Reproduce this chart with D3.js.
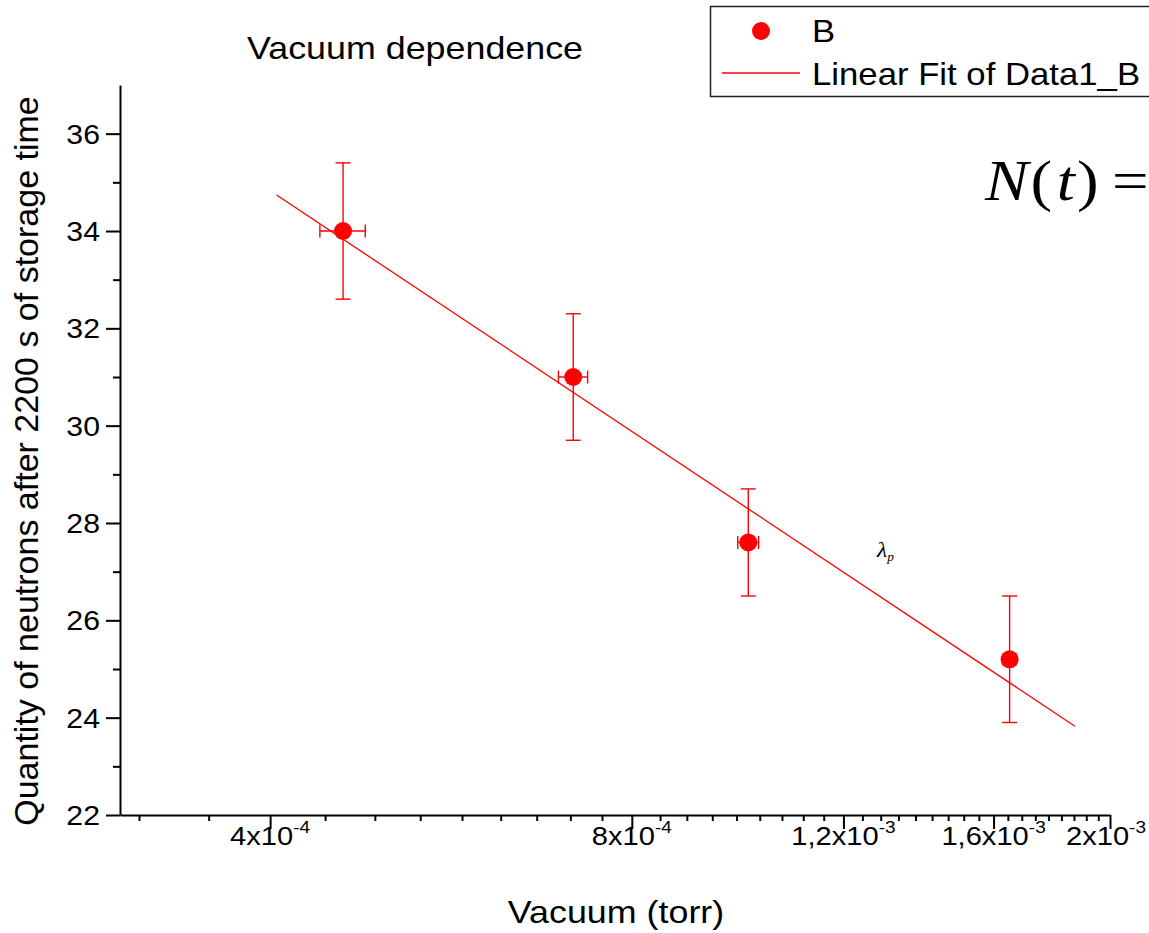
<!DOCTYPE html>
<html>
<head>
<meta charset="utf-8">
<script src="https://cdn.jsdelivr.net/npm/d3@7"></script>
<style>
  html, body { margin: 0; padding: 0; background: #fff; }
  svg { display: block; }
</style>
</head>
<body>
<div id="chart"></div>
<script>
// Measured points: vacuum (torr) vs neutrons remaining after 2200 s
const vacuum = [4.6e-4, 7.15e-4, 1.0e-3, 1.65e-3];
const neutrons = [34.0, 31.0, 27.6, 25.2];
const vacuumErr = [0.2e-4, 0.2e-4, 0.2e-4, 0.2e-4];
const neutronsErr = [1.4, 1.3, 1.1, 1.3];

// Linear fit (on log10 of vacuum) and the range it is drawn over
const fitIntercept = -21.0;
const fitSlope = -16.43;
const fitRange = [4.05e-4, 1.87e-3];

// Axis ticks
const xMajorTicks = [4e-4, 8e-4, 1.2e-3, 1.6e-3, 2e-3];
const xTickMantissa = ["4", "8", "1,2", "1,6", "2"];
const xTickExponent = ["-4", "-4", "-3", "-3", "-3"];
const xMinorPerMajor = 8;
const yMajorTicks = [22, 24, 26, 28, 30, 32, 34, 36];
const yMinorTicks = [23, 25, 27, 29, 31, 33, 35];

const W = 1149, H = 933;
const RED = "#ff0000";
const SANS = "'Liberation Sans', Arial, sans-serif";
const SERIF = "'Liberation Serif', 'Times New Roman', serif";
const SX = 1.12; // horizontal stretch of the lettering

const svg = d3.select("#chart").append("svg")
  .attr("width", W).attr("height", H);

const x = d3.scaleLog().domain([3e-4, 2e-3]).range([120, 1110]);
const y = d3.scaleLinear().domain([22, 37]).range([815, 85]);

// minor ticks: evenly spaced between consecutive majors
const xStep = xMajorTicks[1] - xMajorTicks[0];
const xMinorTicks = [];
[0].concat(xMajorTicks).forEach(m => {
  for (let k = 1; k <= xMinorPerMajor; k++) {
    const v = m + k * xStep / (xMinorPerMajor + 1);
    if (v > x.domain()[0] && v < x.domain()[1]) xMinorTicks.push(v);
  }
});

function styleAxis(g) {
  g.selectAll("path").attr("stroke", "#000").attr("stroke-width", 2);
  g.selectAll("line").attr("stroke", "#000").attr("stroke-width", 2);
}

// x axis
svg.append("g").attr("transform", `translate(0,${y(22)})`)
  .call(d3.axisBottom(x).tickValues(xMinorTicks).tickSize(6).tickSizeOuter(0).tickFormat(""))
  .call(styleAxis);
svg.append("g").attr("transform", `translate(0,${y(22)})`)
  .call(d3.axisBottom(x).tickValues(xMajorTicks).tickSize(14).tickSizeOuter(0).tickFormat(""))
  .call(g => g.select(".domain").remove())
  .call(styleAxis);

// y axis
svg.append("g").attr("transform", `translate(${x(3e-4)},0)`)
  .call(d3.axisLeft(y).tickValues(yMinorTicks).tickSize(7).tickSizeOuter(0).tickFormat(""))
  .call(styleAxis);
svg.append("g").attr("transform", `translate(${x(3e-4)},0)`)
  .call(d3.axisLeft(y).tickValues(yMajorTicks).tickSize(14).tickSizeOuter(0).tickFormat(""))
  .call(g => g.select(".domain").remove())
  .call(styleAxis);

// stretched text helper
function label(px, py, size, anchor, family, extra) {
  const g = svg.append("g").attr("transform", `translate(${px},${py}) scale(${SX},1)` + (extra || ""));
  return g.append("text")
    .attr("x", 0).attr("y", 0)
    .attr("font-family", family || SANS)
    .attr("font-size", size)
    .attr("text-anchor", anchor)
    .attr("fill", "#000");
}

// y tick labels
yMajorTicks.forEach(v => {
  label(100, y(v) + 10, 27, "end").text(v);
});

// x tick labels with exponents; keep the last one inside the page
xMajorTicks.forEach((v, i) => {
  const t = label(x(v), 845, 26, "middle");
  t.append("tspan").text(xTickMantissa[i] + "x10");
  t.append("tspan").attr("font-size", 17).attr("dy", -12).text(xTickExponent[i]);
  const r = t.node().getBoundingClientRect();
  const over = r.right - (W - 3);
  if (over > 0) {
    d3.select(t.node().parentNode)
      .attr("transform", `translate(${x(v) - over},845) scale(${SX},1)`);
  }
});

// titles
label(415, 59, 32, "middle").text("Vacuum dependence");
label(616, 923, 32, "middle").text("Vacuum (torr)");
label(38, 461, 34, "middle", SANS, " scale(" + (1 / SX) + ",1) rotate(-90)")
  .text("Quantity of neutrons after 2200 s of storage time");

// fit line
const fitY = v => fitIntercept + fitSlope * Math.log10(v);
svg.append("path")
  .datum(fitRange)
  .attr("fill", "none")
  .attr("stroke", RED)
  .attr("stroke-width", 1.3)
  .attr("d", d3.line().x(d => x(d)).y(d => y(fitY(d))));

// error bars and points
const pts = vacuum.map((v, i) => ({ x: v, y: neutrons[i], ex: vacuumErr[i], ey: neutronsErr[i] }));
const eb = svg.append("g").attr("stroke", RED).attr("stroke-width", 1.4).attr("fill", "none");
pts.forEach(p => {
  const cx = x(p.x), cy = y(p.y);
  const y0 = y(p.y - p.ey), y1 = y(p.y + p.ey);
  const x0 = x(p.x - p.ex), x1 = x(p.x + p.ex);
  eb.append("line").attr("x1", cx).attr("x2", cx).attr("y1", y0).attr("y2", y1);
  eb.append("line").attr("x1", cx - 7.5).attr("x2", cx + 7.5).attr("y1", y0).attr("y2", y0);
  eb.append("line").attr("x1", cx - 7.5).attr("x2", cx + 7.5).attr("y1", y1).attr("y2", y1);
  eb.append("line").attr("x1", x0).attr("x2", x1).attr("y1", cy).attr("y2", cy);
  eb.append("line").attr("x1", x0).attr("x2", x0).attr("y1", cy - 6.5).attr("y2", cy + 6.5);
  eb.append("line").attr("x1", x1).attr("x2", x1).attr("y1", cy - 6.5).attr("y2", cy + 6.5);
});
svg.append("g").selectAll("circle").data(pts).join("circle")
  .attr("cx", d => x(d.x)).attr("cy", d => y(d.y)).attr("r", 9)
  .attr("fill", RED);

// legend
svg.append("rect").attr("x", 710.5).attr("y", 6.5).attr("width", 460).attr("height", 90)
  .attr("fill", "#fff").attr("stroke", "#222").attr("stroke-width", 1.5);
svg.append("circle").attr("cx", 761).attr("cy", 31).attr("r", 9).attr("fill", RED);
label(812, 42, 31, "start").text("B");
svg.append("line").attr("x1", 722).attr("x2", 800).attr("y1", 73).attr("y2", 73)
  .attr("stroke", RED).attr("stroke-width", 1.5);
label(812, 85, 31, "start").text("Linear Fit of Data1_B");

// formula fragments
const nt = label(985, 200, 58, "start", SERIF);
nt.append("tspan").attr("font-style", "italic").text("N");
nt.append("tspan").attr("dx", 2).text("(");
nt.append("tspan").attr("font-style", "italic").attr("dx", 4).text("t");
nt.append("tspan").attr("dx", 2).text(")");
nt.append("tspan").attr("dx", 12).text("=");

const lam = label(877, 557, 21, "start", SERIF);
lam.append("tspan").attr("font-style", "italic").text("λ");
lam.append("tspan").attr("font-style", "italic").attr("font-size", 12).attr("dy", 4).text("p");
</script>
</body>
</html>
